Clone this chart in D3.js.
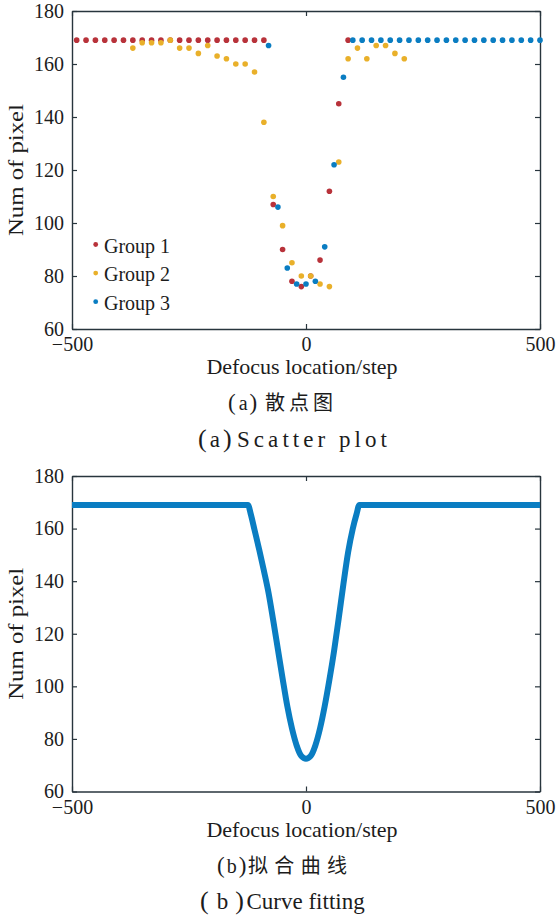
<!DOCTYPE html>
<html>
<head>
<meta charset="utf-8">
<script src="https://cdn.jsdelivr.net/npm/d3@7"></script>
<style>
body { margin: 0; background: #fff; }
text { font-family: "Liberation Serif", "Noto Sans CJK SC", serif; fill: #1c1c1c; }
</style>
</head>
<body>
<script>
var w = 556;
var h = 917;

// scatter data (a)
var group1X = [-490,-470,-450,-430,-410,-390,-370,-350,-330,-310,-290,-270,-250,-230,-210,-190,-170,-150,-130,-110,-90,-70,-50,-30,-10,10,30,50,70,90];
var group1Y = [169,169,169,169,169,169,169,169,169,169,169,169,169,169,169,169,169,169,169,169,169,107,90,78,76,80,86,112,145,169];

var group2X = [-370,-350,-330,-310,-290,-270,-250,-230,-210,-190,-170,-150,-130,-110,-90,-70,-50,-30,-10,10,30,50,70,90,110,130,150,170,190,210];
var group2Y = [166,168,168,168,169,166,166,164,167,163,162,160,160,157,138,110,99,85,80,80,77,76,123,162,166,162,167,167,164,162];

var group3X = [-80,-60,-40,-20,0,20,40,60,80,100,120,140,160,180,200,220,240,260,280,300,320,340,360,380,400,420,440,460,480,500];
var group3Y = [167,106,83,77,77,78,91,122,155,169,169,169,169,169,169,169,169,169,169,169,169,169,169,169,169,169,169,169,169,169];

var groupNames = ["Group 1", "Group 2", "Group 3"];
var groupColors = ["#b8323a", "#e9b02a", "#0a7dc2"];

// fitted curve (b)
var curveX = [-500,-124,-118,-110,-100,-90,-80,-70,-60,-50,-40,-30,-20,-10,0,10,20,30,40,50,60,70,80,90,100,108,114,500];
var curveY = [169,169,165.5,159.5,152,144,135.5,125,114,103,92.5,84,77.5,73.5,72.5,73.5,77.5,84,92.5,102.5,113.5,126,139,151,160,165.5,169,169];

var xTicks = [-500, 0, 500];
var yTicks = [60, 80, 100, 120, 140, 160, 180];

var svg = d3.select("body")
            .append("svg")
            .attr("width", w)
            .attr("height", h);

var x = d3.scaleLinear().domain([-500, 500]).range([72, 540]);

function drawFrame(y, top, bottom) {
    var g = svg.append("g");
    var axisColor = "#28353d";

    g.append("g").attr("transform", "translate(72,0)")
        .call(d3.axisLeft(y).tickValues(yTicks).tickSize(-5).tickSizeOuter(0).tickPadding(8));
    g.append("g").attr("transform", "translate(540,0)")
        .call(d3.axisRight(y).tickValues(yTicks).tickSize(-5).tickSizeOuter(0).tickFormat(""));
    g.append("g").attr("transform", "translate(0," + bottom + ")")
        .call(d3.axisBottom(x).tickValues(xTicks).tickSize(-5).tickSizeOuter(0).tickPadding(8));
    g.append("g").attr("transform", "translate(0," + top + ")")
        .call(d3.axisTop(x).tickValues(xTicks).tickSize(-5).tickSizeOuter(0).tickFormat(""));

    g.selectAll(".domain").attr("stroke", axisColor).attr("stroke-width", 1.4);
    g.selectAll(".tick line").attr("stroke", axisColor).attr("stroke-width", 1.2);
    g.selectAll(".tick text")
        .style("font-family", "'Liberation Serif', serif")
        .attr("font-size", "20px")
        .attr("fill", "#1c1c1c");

    g.append("text")
        .attr("x", 302)
        .attr("y", bottom + 45)
        .attr("text-anchor", "middle")
        .attr("font-size", "22px")
        .text("Defocus location/step");

    g.append("text")
        .attr("transform", "translate(23," + ((top + bottom) / 2) + ") rotate(-90)")
        .attr("text-anchor", "middle")
        .attr("font-size", "22px")
        .attr("textLength", 132).attr("lengthAdjust", "spacingAndGlyphs")
        .text("Num of pixel");
}

// caption: "(x)" with big parentheses, then the body text
function caption(x0, y0, letter, gaps, size, bodyX, body, bodyW) {
    var t = svg.append("text").attr("x", x0).attr("y", y0).attr("font-size", size + "px");
    t.append("tspan").attr("font-size", (size + 3) + "px").text("(");
    t.append("tspan").attr("dx", gaps[0]).text(letter);
    t.append("tspan").attr("dx", gaps[1]).attr("font-size", (size + 3) + "px").text(")");

    var b = svg.append("text")
       .attr("x", bodyX).attr("y", y0)
       .attr("font-size", size + "px")
       .text(body);
    if (bodyW) b.attr("textLength", bodyW).attr("lengthAdjust", "spacing");
}

// ---- (a) scatter plot ----
var yA = d3.scaleLinear().domain([60, 180]).range([329, 11]);
drawFrame(yA, 11, 329);

var groups = [
    { xs: group1X, ys: group1Y },
    { xs: group2X, ys: group2Y },
    { xs: group3X, ys: group3Y }
];

groups.forEach(function(grp, k) {
    svg.append("g")
       .selectAll("circle")
       .data(grp.xs)
       .enter()
       .append("circle")
       .attr("cx", function(d) { return x(d); })
       .attr("cy", function(d, i) { return yA(grp.ys[i]); })
       .attr("r", 2.8)
       .attr("fill", groupColors[k]);
});

// legend
var legend = svg.append("g");
groupNames.forEach(function(name, k) {
    var ly = 244.5 + k * 28.6;
    legend.append("circle").attr("cx", 95.7).attr("cy", ly).attr("r", 2.4).attr("fill", groupColors[k]);
    legend.append("text").attr("x", 104).attr("y", ly + 8).attr("font-size", "20px").text(name);
});

caption(228, 410, "a", [3, 2], 20, 265, "散点图", 68);
caption(198, 447, "a", [3, 3], 23, 237, "Scatter plot", 150);

// ---- (b) curve fitting ----
var yB = d3.scaleLinear().domain([60, 180]).range([791.5, 476]);
drawFrame(yB, 476, 791.5);

var line = d3.line()
    .x(function(d) { return x(d); })
    .y(function(d, i) { return yB(curveY[i]); })
    .curve(d3.curveMonotoneX);

svg.append("path")
   .datum(curveX)
   .attr("d", line)
   .attr("fill", "none")
   .attr("stroke", "#0a7dc2")
   .attr("stroke-width", 6);

caption(217, 873, "b", [2, 2], 20, 248, "拟合曲线", 99);
caption(200, 909, "b", [8, 7], 23, 246.5, "Curve fitting", null);
</script>
</body>
</html>
